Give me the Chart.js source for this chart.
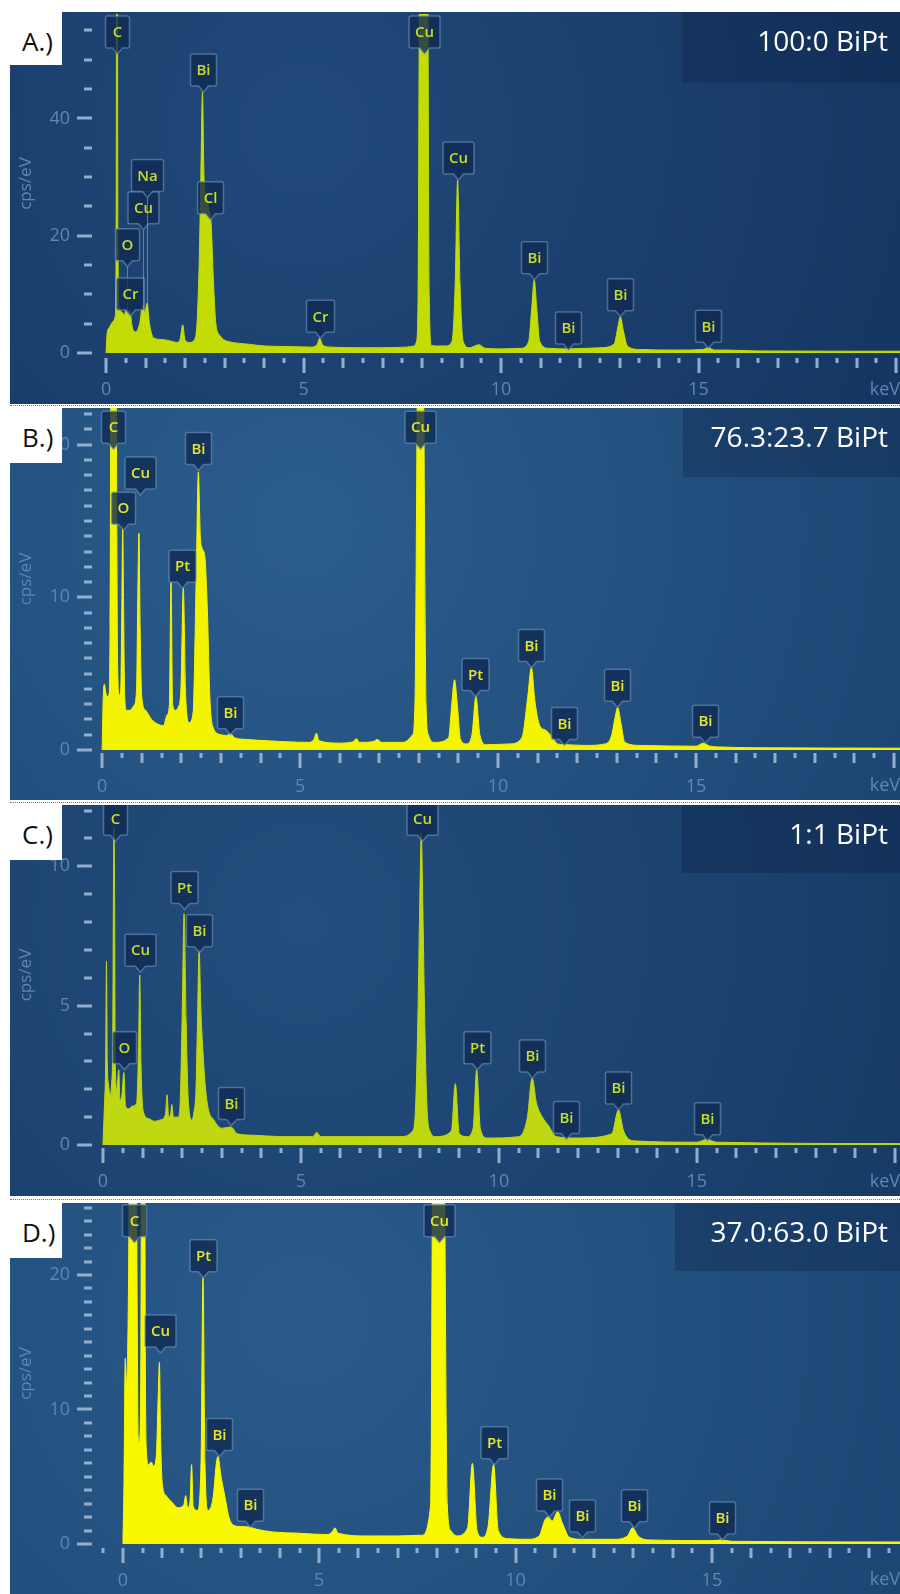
<!DOCTYPE html>
<html>
<head>
<meta charset="utf-8">
<title>EDS spectra - BiPt</title>
<script src="https://cdn.jsdelivr.net/npm/chart.js@4.4.1/dist/chart.umd.min.js"></script>
<style>
  body { margin: 0; background: #fff; width: 900px; height: 1594px; position: relative; overflow: hidden; font-family: 'Open Sans', sans-serif; }
  .panel { position: absolute; left: 10px; width: 890px; }
  .panel canvas { position: absolute; left: 0; top: 0; }
  .tag { position: absolute; left: 0; top: 0; width: 52px; height: 53px; background: #fff; color: #111; font-size: 26px; line-height: 58px; padding-left: 12px; box-sizing: border-box; }
  .title { position: absolute; right: 0; top: 0; background: rgba(10, 30, 62, 0.3); color: #fff; font-size: 28px; line-height: 56px; text-align: right; padding-right: 12px; box-sizing: border-box; }
  .sep { position: absolute; left: 10px; width: 890px; border-top: 1px dotted #777; }
</style>
</head>
<body>

<div class="panel" style="top:12px;height:392px">
  <canvas id="chartA" width="890" height="392"></canvas>
  <div class="tag">A.)</div>
  <div class="title" style="width:218px;height:71px">100:0 BiPt</div>
</div>
<div class="sep" style="top:405px"></div>

<div class="panel" style="top:408px;height:392px">
  <canvas id="chartB" width="890" height="392"></canvas>
  <div class="tag" style="height:55px">B.)</div>
  <div class="title" style="width:217px;height:69px">76.3:23.7 BiPt</div>
</div>
<div class="sep" style="top:802px"></div>

<div class="panel" style="top:805px;height:391px">
  <canvas id="chartC" width="890" height="391"></canvas>
  <div class="tag" style="height:55px">C.)</div>
  <div class="title" style="width:218px;height:68px">1:1 BiPt</div>
</div>
<div class="sep" style="top:1199px"></div>

<div class="panel" style="top:1203px;height:391px">
  <canvas id="chartD" width="890" height="391"></canvas>
  <div class="tag" style="height:55px">D.)</div>
  <div class="title" style="width:225px;height:68px">37.0:63.0 BiPt</div>
</div>

<script>
// x axis tick labels (keV), shared by all four spectra
const xTickValues = [0, 5, 10, 15];

// ---- A.) 100:0 BiPt ----
const keVA = [0.0, 0.03, 0.07, 0.12, 0.18, 0.23, 0.255, 0.27, 0.285, 0.3,
    0.33, 0.4, 0.46, 0.5, 0.53, 0.56, 0.6, 0.66, 0.75, 0.85,
    0.93, 0.98, 1.04, 1.1, 1.2, 1.4, 1.6, 1.8, 1.88, 1.94,
    2.0, 2.12, 2.26, 2.31, 2.36, 2.4, 2.44, 2.48, 2.53, 2.6,
    2.66, 2.72, 2.78, 2.88, 3.0, 3.2, 3.6, 4.0, 4.6, 5.2,
    5.34, 5.41, 5.49, 5.7, 6.4, 7.0, 7.6, 7.8, 7.86, 7.9,
    7.93, 7.97, 8.04, 8.11, 8.15, 8.18, 8.24, 8.4, 8.6, 8.76,
    8.84, 8.9, 8.96, 9.04, 9.2, 9.44, 9.6, 10.0, 10.5, 10.7,
    10.78, 10.84, 10.9, 10.98, 11.2, 11.7, 12.5, 12.86, 12.96, 13.02,
    13.09, 13.2, 13.5, 14.5, 15.1, 15.25, 15.4, 15.7, 16.5, 20.1];
const cpsA = [0, 3.5, 4.2, 4.8, 5.4, 6.2, 20, 80, 80, 20,
    8, 7, 6.5, 7.3, 7.5, 7, 7.3, 4.5, 3.6, 5,
    8.2, 7, 8.5, 5, 2.6, 2.3, 2.1, 1.8, 2.5, 4.8,
    2.2, 1.8, 2.6, 6, 16, 30, 44.5, 30, 27, 24.5,
    22, 12, 5, 3, 2.2, 1.8, 1.5, 1.2, 1.1, 1.0,
    1.4, 2.5, 1.3, 1.0, 0.9, 0.9, 1.0, 1.2, 2, 10,
    58, 110, 150, 110, 58, 10, 1.3, 1.2, 1.2, 2,
    12, 29.5, 12, 2, 0.9, 1.4, 0.8, 0.7, 0.8, 2,
    8, 12.5, 8, 2, 0.8, 0.7, 0.9, 1.5, 4.5, 6.2,
    4, 1.2, 0.6, 0.5, 0.6, 0.9, 0.5, 0.5, 0.35, 0.3];
const yTicksA = [0, 20, 40];
const peakNamesA = ['C', 'O', 'Cr', 'Cu', 'Na', 'Bi', 'Cl', 'Cr', 'Cu', 'Cu', 'Bi', 'Bi', 'Bi', 'Bi'];
const peakKeVA = [0.28, 0.53, 0.6, 0.93, 1.04, 2.45, 2.62, 5.41, 8.04, 8.9, 10.84, 11.7, 13.02, 15.25];
const peakTipA = [51, 14.7, 6.3, 21, 26.5, 44.5, 22.7, 2.5, 51, 29.5, 12.5, 0.5, 6.2, 0.8];
const peakLineA = [null, 6, null, 4, 4, null, null, null, null, null, null, null, null, null];

// ---- B.) 76.3:23.7 BiPt ----
const keVB = [0.0, 0.03, 0.06, 0.09, 0.13, 0.17, 0.2, 0.22, 0.24, 0.33,
    0.36, 0.39, 0.43, 0.47, 0.5, 0.52, 0.54, 0.57, 0.62, 0.7,
    0.8, 0.87, 0.9, 0.93, 0.96, 1.0, 1.1, 1.25, 1.4, 1.55,
    1.64, 1.7, 1.74, 1.78, 1.85, 1.92, 1.99, 2.05, 2.11, 2.2,
    2.3, 2.38, 2.43, 2.48, 2.53, 2.6, 2.66, 2.72, 2.8, 3.0,
    3.15, 3.23, 3.35, 3.6, 4.2, 5.2, 5.35, 5.41, 5.48, 6.0,
    6.35, 6.42, 6.5, 6.85, 6.95, 7.05, 7.6, 7.84, 7.9, 7.95,
    8.04, 8.13, 8.18, 8.24, 8.4, 8.75, 8.83, 8.9, 8.97, 9.05,
    9.2, 9.34, 9.44, 9.54, 9.7, 10.3, 10.6, 10.75, 10.84, 10.93,
    11.05, 11.2, 11.35, 11.5, 11.7, 12.2, 12.7, 12.86, 12.96, 13.02,
    13.1, 13.2, 13.6, 15.0, 15.18, 15.35, 15.6, 16.5, 20.2];
const cpsB = [0, 3.6, 4.3, 3.8, 3.5, 3.6, 8, 25, 40, 40,
    22, 6, 3.6, 4, 10, 14.7, 10, 3.5, 2.6, 2.6,
    2.9, 4, 10, 14.2, 8, 3.5, 2.6, 2.0, 1.7, 1.6,
    2.3, 3, 11, 3, 2.6, 2.8, 4, 10.6, 3.5, 1.8,
    2.5, 12, 18.2, 14, 13.2, 12.5, 9, 3.5, 1.5, 1.0,
    0.95, 1.1, 0.8, 0.7, 0.6, 0.5, 0.7, 1.1, 0.6, 0.45,
    0.55, 0.75, 0.5, 0.55, 0.7, 0.5, 0.5, 1, 3, 20,
    60, 20, 3, 1, 0.5, 0.8, 3, 4.6, 3, 0.7,
    0.4, 1, 3.5, 1, 0.35, 0.4, 0.8, 3.5, 5.4, 3.2,
    1.6, 1.3, 0.9, 0.4, 0.35, 0.3, 0.4, 0.9, 2.2, 2.8,
    1.8, 0.5, 0.3, 0.25, 0.45, 0.25, 0.2, 0.15, 0.12];
const yTicksB = [0, 10, 20];
const peakNamesB = ['C', 'O', 'Cu', 'Pt', 'Bi', 'Bi', 'Cu', 'Pt', 'Bi', 'Bi', 'Bi', 'Bi'];
const peakKeVB = [0.28, 0.52, 0.96, 2.02, 2.42, 3.23, 8.04, 9.42, 10.84, 11.67, 13.0, 15.22];
const peakTipB = [19.7, 14.4, 16.7, 10.6, 18.3, 1.0, 19.7, 3.5, 5.4, 0.3, 2.8, 0.45];

// ---- C.) 1:1 BiPt ----
const keVC = [0.0, 0.04, 0.07, 0.09, 0.11, 0.14, 0.18, 0.22, 0.25, 0.265,
    0.28, 0.295, 0.31, 0.35, 0.4, 0.43, 0.48, 0.53, 0.57, 0.65,
    0.75, 0.85, 0.9, 0.93, 0.96, 1.02, 1.15, 1.3, 1.45, 1.58,
    1.62, 1.66, 1.71, 1.74, 1.78, 1.9, 1.95, 2.0, 2.05, 2.1,
    2.16, 2.25, 2.3, 2.35, 2.39, 2.43, 2.47, 2.52, 2.58, 2.66,
    2.8, 3.0, 3.23, 3.4, 3.8, 4.5, 5.3, 5.4, 5.5, 6.5,
    7.5, 7.82, 7.9, 7.96, 8.0, 8.04, 8.08, 8.12, 8.18, 8.26,
    8.4, 8.8, 8.9, 9.0, 9.2, 9.35, 9.44, 9.53, 9.7, 10.5,
    10.72, 10.84, 10.95, 11.1, 11.25, 11.45, 12.0, 12.85, 13.02, 13.15,
    13.4, 15.0, 15.25, 15.5, 20.2];
const cpsC = [0, 1.5, 3, 6.6, 3, 2.2, 1.8, 2.2, 4, 9,
    11.4, 9, 3, 2, 2.7, 1.6, 1.8, 2.6, 1.4, 1.3,
    1.4, 1.5, 3.5, 6.1, 3, 1.2, 0.95, 0.85, 0.9, 1.1,
    1.8, 1.0, 1.1, 1.45, 1.0, 1.0, 1.5, 4.5, 8.3, 4.5,
    1.5, 0.9, 1.2, 2, 4.5, 7.0, 5, 3.5, 2.2, 1.3,
    0.9, 0.6, 0.65, 0.4, 0.35, 0.3, 0.3, 0.45, 0.3, 0.3,
    0.3, 0.5, 1.5, 5, 8.5, 11.2, 8.5, 5, 1.5, 0.5,
    0.3, 0.5, 2.2, 0.4, 0.3, 0.6, 2.7, 0.6, 0.25, 0.3,
    1, 2.4, 1.5, 1.0, 0.7, 0.3, 0.25, 0.4, 1.26, 0.5,
    0.15, 0.1, 0.2, 0.1, 0.05];
const yTicksC = [0, 5, 10];
const peakNamesC = ['C', 'O', 'Cu', 'Pt', 'Bi', 'Bi', 'Cu', 'Pt', 'Bi', 'Bi', 'Bi', 'Bi'];
const peakKeVC = [0.3, 0.53, 0.93, 2.05, 2.42, 3.23, 8.05, 9.44, 10.84, 11.7, 13.02, 15.25];
const peakTipC = [10.9, 2.7, 6.2, 8.45, 6.9, 0.7, 10.9, 2.7, 2.4, 0.2, 1.26, 0.15];

// ---- D.) 37.0:63.0 BiPt ----
const keVD = [0.0, 0.03, 0.06, 0.09, 0.12, 0.15, 0.18, 0.33, 0.36, 0.39,
    0.42, 0.46, 0.48, 0.55, 0.57, 0.6, 0.65, 0.72, 0.78, 0.85,
    0.9, 0.93, 0.96, 1.0, 1.1, 1.25, 1.4, 1.55, 1.6, 1.65,
    1.71, 1.75, 1.79, 1.9, 1.99, 2.04, 2.09, 2.17, 2.3, 2.38,
    2.42, 2.5, 2.6, 2.7, 2.82, 3.0, 3.23, 3.4, 3.8, 4.5,
    5.2, 5.33, 5.4, 5.48, 6.2, 7.0, 7.6, 7.84, 7.88, 7.93,
    8.04, 8.15, 8.2, 8.26, 8.35, 8.5, 8.78, 8.9, 9.02, 9.15,
    9.3, 9.44, 9.56, 9.8, 10.3, 10.6, 10.75, 10.84, 10.93, 11.07,
    11.2, 11.37, 11.7, 12.5, 12.85, 12.98, 13.12, 13.4, 15.0, 15.25,
    15.5, 19.8];
const cpsD = [0, 5, 13.8, 12, 14, 22, 40, 40, 20, 8,
    7.5, 15, 40, 40, 15, 7, 5.9, 6.1, 5.8, 6.5,
    11, 13.5, 8, 4.6, 3.6, 3.1, 2.7, 2.9, 3.6, 2.7,
    3.2, 5.9, 2.8, 2.5, 6, 19.8, 6, 2.5, 3.5, 6,
    6.5, 5, 3.5, 2, 1.4, 1.3, 1.25, 1.1, 0.9, 0.8,
    0.7, 0.9, 1.2, 0.8, 0.6, 0.6, 0.65, 3, 25, 60,
    100, 60, 25, 3, 1, 0.6, 1.2, 6.0, 1.0, 0.5,
    1.3, 5.9, 1, 0.4, 0.35, 0.6, 1.8, 2.0, 1.7, 2.4,
    1.5, 0.5, 0.35, 0.35, 0.6, 1.2, 0.6, 0.3, 0.25, 0.3,
    0.2, 0.15];
const yTicksD = [0, 10, 20];
const peakNamesD = ['C', 'Cu', 'Pt', 'Bi', 'Bi', 'Cu', 'Pt', 'Bi', 'Bi', 'Bi', 'Bi'];
const peakKeVD = [0.28, 0.94, 2.04, 2.44, 3.23, 8.04, 9.44, 10.84, 11.7, 13.02, 15.25];
const peakTipD = [22.4, 14.2, 19.8, 6.5, 1.25, 22.4, 5.9, 2.0, 0.45, 1.2, 0.3];

const axisText = '#5f87b3';
const axisMarkColor = '#93aecb';

// dark blue gradient behind each spectrum, like the EDS software screen
const panelBackground = {
    id: 'panelBackground',
    beforeDraw(chart, args, opts) {
        const {ctx, width, height} = chart;
        const g = ctx.createRadialGradient(width * 0.33, height * 0.3, 10, width * 0.33, height * 0.3, width * 0.8);
        g.addColorStop(0, opts.inner);
        g.addColorStop(1, opts.outer);
        ctx.save();
        ctx.fillStyle = g;
        ctx.fillRect(0, 0, width, height);
        ctx.restore();
    }
};

// dash marks on the y axis and the ruler ticks under the x axis
const axisMarks = {
    id: 'axisMarks',
    afterDraw(chart, args, opts) {
        const {ctx, chartArea, scales: {x, y}} = chart;
        ctx.save();
        ctx.fillStyle = axisMarkColor;
        for (let i = 0; i * opts.minor <= y.max; i++) {
            const v = i * opts.minor;
            const py = Math.round(y.getPixelForValue(v));
            const len = (v % opts.major === 0) ? 15 : 8;
            ctx.fillRect(chartArea.left - 3 - len, py - 1.5, len, 3);
        }
        for (let k = Math.ceil(x.min * 2); k / 2 <= x.max; k++) {
            const px = Math.round(x.getPixelForValue(k / 2));
            let len = 5; // half keV
            if (k % 10 === 0) len = 15; // every 5 keV
            else if (k % 2 === 0) len = 10; // whole keV
            ctx.fillRect(px - 1.5, chartArea.bottom + opts.gap, 3, len);
        }
        ctx.restore();
    }
};

// element callouts: small boxes with a pointer to the peak
const peakLabels = {
    id: 'peakLabels',
    afterDatasetsDraw(chart, args, opts) {
        const {ctx, scales: {x, y}} = chart;
        ctx.save();
        ctx.font = '600 15px "Open Sans"';
        ctx.textAlign = 'center';
        ctx.textBaseline = 'middle';
        opts.names.forEach((name, i) => {
            const px = Math.round(x.getPixelForValue(opts.keV[i])) + 0.5;
            const tip = y.getPixelForValue(opts.tips[i]);
            if (opts.lines && opts.lines[i] != null) {
                ctx.strokeStyle = 'rgba(200, 225, 80, 0.45)';
                ctx.lineWidth = 1;
                ctx.beginPath();
                ctx.moveTo(px, tip);
                ctx.lineTo(px, y.getPixelForValue(opts.lines[i]));
                ctx.stroke();
            }
            const w = Math.max(24, Math.round(ctx.measureText(name).width) + 12);
            const h = 32;
            const bottom = tip - 6;
            const top = bottom - h;
            const left = px - w / 2, right = px + w / 2;
            ctx.beginPath();
            ctx.moveTo(left + 2, top);
            ctx.lineTo(right - 2, top);
            ctx.quadraticCurveTo(right, top, right, top + 2);
            ctx.lineTo(right, bottom - 2);
            ctx.quadraticCurveTo(right, bottom, right - 2, bottom);
            ctx.lineTo(px + 5, bottom);
            ctx.lineTo(px, tip);
            ctx.lineTo(px - 5, bottom);
            ctx.lineTo(left + 2, bottom);
            ctx.quadraticCurveTo(left, bottom, left, bottom - 2);
            ctx.lineTo(left, top + 2);
            ctx.quadraticCurveTo(left, top, left + 2, top);
            ctx.closePath();
            ctx.fillStyle = 'rgba(16, 42, 82, 0.8)';
            ctx.fill();
            ctx.strokeStyle = 'rgba(110, 148, 190, 0.6)';
            ctx.lineWidth = 1.5;
            ctx.stroke();
            ctx.fillStyle = opts.color;
            ctx.fillText(name, px, top + h / 2 + 1);
        });
        ctx.restore();
    }
};

function drawSpectrum(canvasId, s) {
    const points = s.keV.map((e, i) => ({x: e, y: s.cps[i]}));
    const tickFont = {family: 'Open Sans', size: 18};

    return new Chart(document.getElementById(canvasId), {
        type: 'line',
        data: {
            datasets: [{
                data: points,
                borderColor: s.color,
                backgroundColor: s.color,
                borderWidth: 1,
                pointRadius: 0,
                fill: 'origin',
                cubicInterpolationMode: 'monotone'
            }]
        },
        options: {
            responsive: false,
            animation: false,
            events: [],
            layout: {padding: {top: s.padTop, left: 0, right: 0, bottom: 0}},
            plugins: {
                legend: {display: false},
                tooltip: {enabled: false},
                panelBackground: {inner: s.bgInner, outer: s.bgOuter},
                axisMarks: {major: s.yTicks[1], minor: s.yMinor, gap: s.xGap},
                peakLabels: {names: s.names, keV: s.peakKeV, tips: s.tips, lines: s.lines, color: s.labelColor}
            },
            scales: {
                x: {
                    type: 'linear',
                    min: s.xMin,
                    max: s.xMax,
                    grid: {display: false, drawTicks: false},
                    border: {display: false},
                    afterFit: sc => {
                        sc.height = s.axisH;
                        sc.paddingLeft = 0;
                        sc.paddingRight = 0;
                    },
                    afterBuildTicks: sc => { sc.ticks = xTickValues.map(v => ({value: v})); },
                    ticks: {autoSkip: false, maxRotation: 0, padding: 26, color: axisText, font: tickFont},
                    title: {display: true, text: 'keV', align: 'end', color: axisText, font: tickFont, padding: {top: 0, bottom: 3}}
                },
                y: {
                    min: 0,
                    max: s.yMax,
                    grid: {display: false, drawTicks: false},
                    border: {display: false},
                    // fixed axis width, and no extra room above the plot for the tick padding
                    afterFit: sc => {
                        sc.width = 85;
                        sc.paddingTop = 0;
                        sc.paddingBottom = 0;
                    },
                    afterBuildTicks: sc => { sc.ticks = s.yTicks.map(v => ({value: v})); },
                    ticks: {padding: 25, color: axisText, font: tickFont},
                    title: {display: true, text: 'cps/eV', color: axisText, font: {family: 'Open Sans', size: 17}, padding: {top: 6, bottom: 0}}
                }
            }
        },
        plugins: [panelBackground, axisMarks, peakLabels]
    });
}

document.addEventListener('DOMContentLoaded', function() {
    drawSpectrum('chartA', {
        keV: keVA, cps: cpsA, yTicks: yTicksA, yMinor: 5,
        names: peakNamesA, peakKeV: peakKeVA, tips: peakTipA, lines: peakLineA,
        xMin: -0.28, xMax: 20.1, yMax: 57.8, padTop: 2, axisH: 51, xGap: 5,
        color: '#c3dc06', labelColor: '#c6dc2a', bgInner: '#21497a', bgOuter: '#143460'
    });
    drawSpectrum('chartB', {
        keV: keVB, cps: cpsB, yTicks: yTicksB, yMinor: 1,
        names: peakNamesB, peakKeV: peakKeVB, tips: peakTipB,
        xMin: -0.18, xMax: 20.15, yMax: 22.4, padTop: 0, axisH: 50, xGap: 3,
        color: '#f4f400', labelColor: '#e6e62a', bgInner: '#2b5d8d', bgOuter: '#1b4371'
    });
    drawSpectrum('chartC', {
        keV: keVC, cps: cpsC, yTicks: yTicksC, yMinor: 1,
        names: peakNamesC, peakKeV: peakKeVC, tips: peakTipC,
        xMin: -0.2, xMax: 20.13, yMax: 12.2, padTop: 0, axisH: 51, xGap: 3,
        color: '#bfd812', labelColor: '#c6dc2a', bgInner: '#234d7d', bgOuter: '#163964'
    });
    drawSpectrum('chartD', {
        keV: keVD, cps: cpsD, yTicks: yTicksD, yMinor: 1,
        names: peakNamesD, peakKeV: peakKeVD, tips: peakTipD,
        xMin: -0.71, xMax: 19.79, yMax: 25.35, padTop: 0, axisH: 50, xGap: 4,
        color: '#f8f800', labelColor: '#e6e62a', bgInner: '#2a5b8b', bgOuter: '#1b4472'
    });
});
</script>
</body>
</html>
